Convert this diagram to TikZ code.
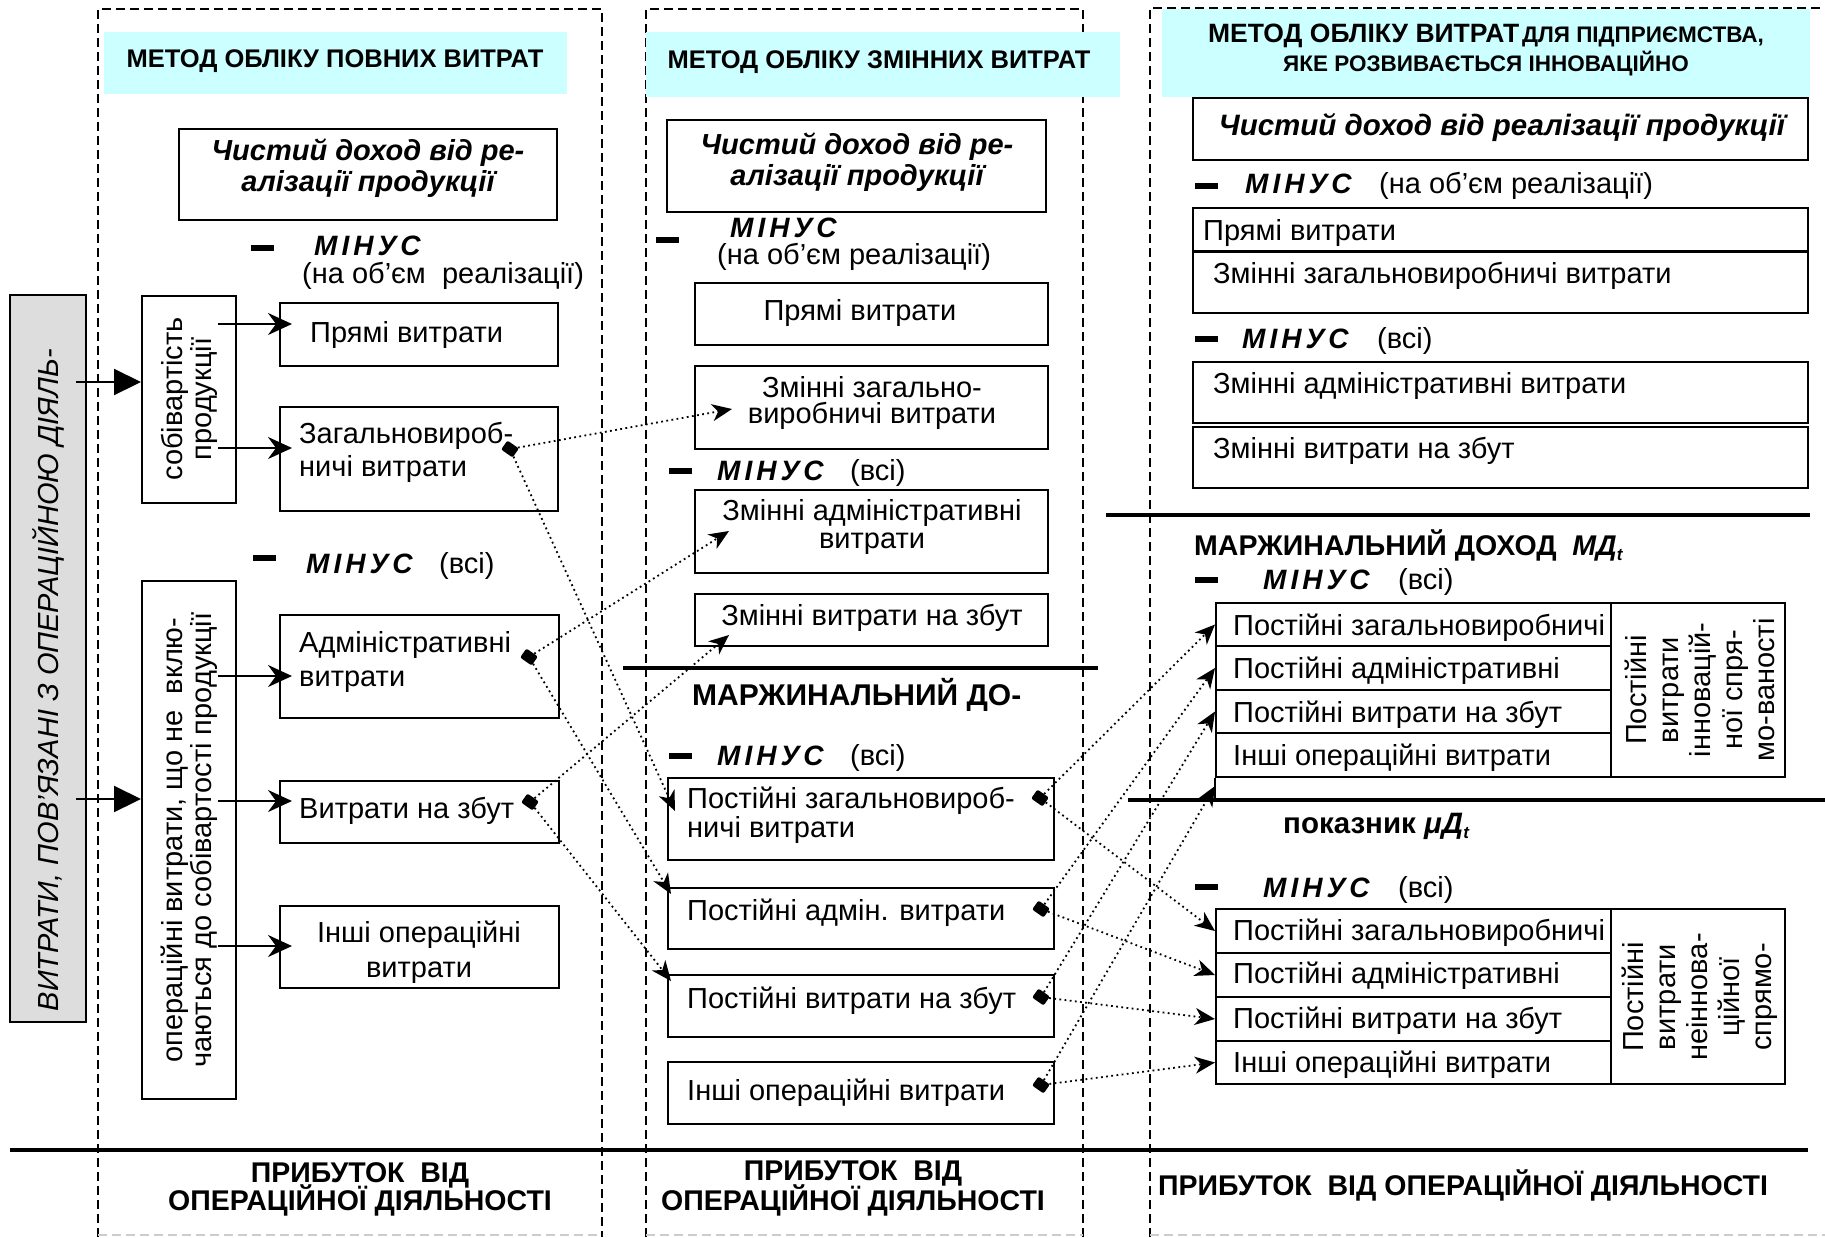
\documentclass[tikz,border=0pt]{standalone}
\usepackage{fontspec}
\setmainfont{Liberation Sans}
\usetikzlibrary{arrows.meta,calc}

\definecolor{hdrcyan}{RGB}{204,255,255}
\definecolor{boxgray}{RGB}{221,221,221}

% box from its two corners: [options]{name}{x1}{y1}{x2}{y2}
\newcommand\cornerbox[6][]{\node[costbox,#1, minimum width={(#5)-(#3)}, minimum height={(#6)-(#4)}] (#2) at ({((#3)+(#5))/2},{((#4)+(#6))/2}) {};}
\newcommand\mnsword{М\kern4ptІ\kern4ptН\kern4ptУ\kern4ptС}
\newcommand\subt{\raisebox{-5pt}{\fontsize{17}{17}\selectfont t}}

\tikzset{
  costbox/.style={draw, line width=2pt, inner sep=0pt},
  txt/.style={inner sep=0pt, font=\fontsize{29}{29}\selectfont},
  hdrtxt/.style={inner sep=0pt, font=\fontsize{25.5}{27}\selectfont\bfseries},
  boldtxt/.style={inner sep=0pt, font=\fontsize{28.5}{29}\selectfont\bfseries},
  bitxt/.style={inner sep=0pt, font=\fontsize{28}{29}\selectfont\bfseries\itshape},
  revtxt/.style={inner sep=0pt, font=\fontsize{29}{29}\selectfont\bfseries\itshape},
  graytxt/.style={inner sep=0pt, font=\fontsize{29}{30}\selectfont\itshape},
  rtxt/.style={inner sep=0pt, align=center, font=\fontsize{29}{29}\selectfont},
  sidetxt/.style={inner sep=0pt, align=center, font=\fontsize{29}{32}\selectfont},
  dashbar/.style={fill, inner sep=0pt, minimum width=23pt, minimum height=6pt},
  sepline/.style={line width=4.5pt},
  coledge/.style={line width=1.4pt, dash pattern=on 9pt off 5pt},
  sarr/.style={line width=2pt, -{Stealth[length=24pt,width=22pt,inset=8pt]}},
  barr/.style={line width=2.2pt, -{Triangle[length=27pt,width=26pt]}},
  darr/.style={line width=1.8pt, dash pattern=on 1.8pt off 3.4pt, -{Stealth[length=20pt,width=17pt,inset=6pt]}},
  srcdot/.style={fill, rounded corners=2pt, minimum width=14pt, minimum height=11pt, inner sep=0pt, rotate=-35},
}

\begin{document}
\begin{tikzpicture}[x=1pt,y=-1pt]
\useasboundingbox (0,0) rectangle (1825,1237);

% ---------- column frames ----------
\draw[coledge] (98,1237) -- (98,9) -- (602,9) -- (602,1237);
\draw[coledge] (646,1237) -- (646,9) -- (1083,9) -- (1083,1237);
\draw[coledge] (1150,1237) -- (1150,8) -- (1830,8);
\draw[coledge, draw=black!20] (98,1235) -- (602,1235) (646,1235) -- (1083,1235) (1150,1235) -- (1830,1235);

% ---------- separators ----------
\draw[sepline] (10,1150) -- (1808,1150);
\draw[sepline] (623,668) -- (1098,668);
\draw[sepline] (1106,515) -- (1810,515);
\draw[sepline] (1128,800) -- (1825,800);

% ================= column 1: full costing =================
\cornerbox[fill=hdrcyan, draw=none]{h1}{104}{32}{567}{94}
\node[hdrtxt, anchor=base] (h1t) at (335,67) {МЕТОД ОБЛІКУ ПОВНИХ ВИТРАТ};

\cornerbox{rev1}{179}{129}{557}{220}
\node[revtxt, anchor=base] (rev1a) at (368,160) {Чистий доход від ре-};
\node[revtxt, anchor=base] (rev1b) at (368,191) {алізації продукції};

\node[dashbar] (m1d) at (262,248) {};
\node[bitxt, anchor=base west] (m1w) at (314,255) {\mnsword};
\node[txt, anchor=base west] (m1n) at (302,283) {(на об’єм\ \ реалізації)};

\cornerbox[fill=boxgray]{gr}{10}{295}{86}{1022}
\node[graytxt, rotate=90] (grt) at (48,680) {ВИТРАТИ, ПОВ’ЯЗАНІ З ОПЕРАЦІЙНОЮ ДІЯЛЬ-};

\cornerbox{sob}{142}{296}{236}{503}
\node[rtxt, rotate=90] (sobt) at (189,399) {собівартість\\продукції};

\cornerbox{p1}{280}{303}{558}{366}
\node[txt, anchor=base west] (p1t) at (310,342) {Прямі витрати};

\cornerbox{z1}{280}{407}{558}{511}
\node[txt, anchor=base west] (z1a) at (299,443) {Загальновироб-};
\node[txt, anchor=base west] (z1b) at (299,476) {ничі витрати};

\node[dashbar] (m2d) at (264,558) {};
\node[bitxt, anchor=base west] (m2w) at (306,573) {\mnsword};
\node[txt, anchor=base west] (m2n) at (439,573) {(всі)};

\cornerbox{opv}{142}{581}{236}{1099}
\node[rtxt, rotate=90] (opvt) at (189,840) {операційні витрати, що не\ \ вклю-\\чаються до собівартості продукції};

\cornerbox{a1}{280}{615}{559}{718}
\node[txt, anchor=base west] (a1a) at (299,652) {Адміністративні};
\node[txt, anchor=base west] (a1b) at (299,686) {витрати};

\cornerbox{b1}{280}{781}{559}{843}
\node[txt, anchor=base west] (b1t) at (299,818) {Витрати на збут};

\cornerbox{i1}{280}{906}{559}{988}
\node[txt, anchor=base] (i1a) at (419,942) {Інші операційні};
\node[txt, anchor=base] (i1b) at (419,977) {витрати};

\node[boldtxt, anchor=base] (pr1a) at (360,1182) {ПРИБУТОК\ \ ВІД};
\node[boldtxt, anchor=base] (pr1b) at (360,1210) {ОПЕРАЦІЙНОЇ ДІЯЛЬНОСТІ};

% arrows of column 1
\draw[barr] ($(gr.north east)+(-11,88)$) -- ($(sob.north west)+(0,87)$);
\draw[barr] ($(gr.north east)+(-11,505)$) -- ($(opv.north west)+(0,219)$);
\draw[sarr] ($(sob.north east)+(-19,29)$) -- ($(p1.north west)+(13,22)$);
\draw[sarr] ($(sob.north east)+(-19,153)$) -- ($(z1.north west)+(13,42)$);
\draw[sarr] ($(opv.north east)+(-19,96)$) -- ($(a1.north west)+(13,62)$);
\draw[sarr] ($(opv.north east)+(-19,221)$) -- ($(b1.north west)+(13,21)$);
\draw[sarr] ($(opv.north east)+(-19,366)$) -- ($(i1.north west)+(13,41)$);

% ================= column 2: variable costing =================
\cornerbox[fill=hdrcyan, draw=none]{h2}{646}{32}{1120}{97}
\node[hdrtxt, anchor=base] (h2t) at (879,68) {МЕТОД ОБЛІКУ ЗМІННИХ ВИТРАТ};

\cornerbox{rev2}{667}{120}{1046}{212}
\node[revtxt, anchor=base] (rev2a) at (857,154) {Чистий доход від ре-};
\node[revtxt, anchor=base] (rev2b) at (857,185) {алізації продукції};

\node[dashbar] (m3d) at (667,240) {};
\node[bitxt, anchor=base west] (m3w) at (730,237) {\mnsword};
\node[txt, anchor=base west] (m3n) at (717,264) {(на об’єм реалізації)};

\cornerbox{p2}{695}{283}{1048}{345}
\node[txt, anchor=base] (p2t) at (860,320) {Прямі витрати};

\cornerbox{zz2}{695}{366}{1048}{449}
\node[txt, anchor=base] (zz2a) at (872,397) {Змінні загально-};
\node[txt, anchor=base] (zz2b) at (872,423) {виробничі витрати};

\node[dashbar] (m4d) at (680,471) {};
\node[bitxt, anchor=base west] (m4w) at (717,480) {\mnsword};
\node[txt, anchor=base west] (m4n) at (850,480) {(всі)};

\cornerbox{za2}{695}{490}{1048}{573}
\node[txt, anchor=base] (za2a) at (872,520) {Змінні адміністративні};
\node[txt, anchor=base] (za2b) at (872,548) {витрати};

\cornerbox{zb2}{695}{594}{1048}{646}
\node[txt, anchor=base] (zb2t) at (872,625) {Змінні витрати на збут};

\node[boldtxt, anchor=base west, font=\fontsize{30}{30}\selectfont\bfseries] (md2) at (692,705) {МАРЖИНАЛЬНИЙ ДО-};

\node[dashbar] (m5d) at (680,756) {};
\node[bitxt, anchor=base west] (m5w) at (717,765) {\mnsword};
\node[txt, anchor=base west] (m5n) at (850,765) {(всі)};

\cornerbox{pz2}{668}{778}{1054}{860}
\node[txt, anchor=base west] (pz2a) at (687,808) {Постійні загальновироб-};
\node[txt, anchor=base west] (pz2b) at (687,837) {ничі витрати};

\cornerbox{pa2}{668}{888}{1054}{949}
\node[txt, anchor=base west] (pa2t) at (687,920) {Постійні адмін. витрати};

\cornerbox{pzb2}{668}{975}{1054}{1037}
\node[txt, anchor=base west] (pzb2t) at (687,1008) {Постійні витрати на збут};

\cornerbox{pi2}{668}{1062}{1054}{1124}
\node[txt, anchor=base west] (pi2t) at (687,1100) {Інші операційні витрати};

\node[boldtxt, anchor=base] (pr2a) at (853,1180) {ПРИБУТОК\ \ ВІД};
\node[boldtxt, anchor=base] (pr2b) at (853,1210) {ОПЕРАЦІЙНОЇ ДІЯЛЬНОСТІ};

% ================= column 3: innovation-oriented costing =================
\cornerbox{rev3}{1193}{98}{1808}{160}
\cornerbox[fill=hdrcyan, draw=none]{h3}{1162}{9}{1810}{97}
\node[inner sep=0pt, anchor=base, font=\bfseries] (h3a) at (1486,42)
  {{\fontsize{26.5}{28}\selectfont МЕТОД ОБЛІКУ ВИТРАТ} {\fontsize{22.5}{24}\selectfont ДЛЯ ПІДПРИЄМСТВА,}};
\node[inner sep=0pt, anchor=base, font=\fontsize{22.5}{24}\selectfont\bfseries] (h3b) at (1486,71) {ЯКЕ РОЗВИВАЄТЬСЯ ІННОВАЦІЙНО};
\node[revtxt, anchor=base, font=\fontsize{29.5}{30}\selectfont\bfseries\itshape] (rev3t) at (1502,135) {Чистий доход від реалізації продукції};

\node[dashbar] (m6d) at (1206,186) {};
\node[bitxt, anchor=base west] (m6w) at (1245,193) {\mnsword};
\node[txt, anchor=base west] (m6n) at (1379,193) {(на об’єм реалізації)};

\cornerbox{pv3}{1193}{208}{1808}{251}
\node[txt, anchor=base west] (pv3t) at (1203,240) {Прямі витрати};
\cornerbox{zz3}{1193}{252}{1808}{313}
\node[txt, anchor=base west] (zz3t) at (1213,283) {Змінні загальновиробничі витрати};

\node[dashbar] (m7d) at (1206,339) {};
\node[bitxt, anchor=base west] (m7w) at (1242,348) {\mnsword};
\node[txt, anchor=base west] (m7n) at (1377,348) {(всі)};

\cornerbox{za3}{1193}{362}{1808}{423}
\node[txt, anchor=base west] (za3t) at (1213,393) {Змінні адміністративні витрати};
\cornerbox{zb3}{1193}{427}{1808}{488}
\node[txt, anchor=base west] (zb3t) at (1213,458) {Змінні витрати на збут};

\node[boldtxt, anchor=base west] (md3) at (1194,555) {МАРЖИНАЛЬНИЙ ДОХОД\ \ {\itshape МД\subt}};

\node[dashbar] (m8d) at (1206,580) {};
\node[bitxt, anchor=base west] (m8w) at (1263,589) {\mnsword};
\node[txt, anchor=base west] (m8n) at (1398,589) {(всі)};

% fixed costs of innovation orientation
\cornerbox{r1a}{1216}{603}{1611}{646}
\cornerbox{r2a}{1216}{646}{1611}{690}
\cornerbox{r3a}{1216}{690}{1611}{733}
\cornerbox{r4a}{1216}{733}{1611}{777}
\node[txt, anchor=base west] (r1at) at (1233,635) {Постійні загальновиробничі};
\node[txt, anchor=base west] (r2at) at (1233,678) {Постійні адміністративні};
\node[txt, anchor=base west] (r3at) at (1233,722) {Постійні витрати на збут};
\node[txt, anchor=base west] (r4at) at (1233,765) {Інші операційні витрати};
\cornerbox[fill=white]{sa}{1611}{603}{1785}{777}
\node[sidetxt, rotate=90] (sat) at (1700,690) {Постійні\\витрати\\інновацій-\\ної спря-\\мо-ваності};
\draw[line width=2pt] (r4a.south west) -- ++(0,23);

\node[boldtxt, anchor=base west, font=\fontsize{29.5}{30}\selectfont\bfseries] (mu3) at (1283,833) {показник {\itshape μД\subt}};

\node[dashbar] (m9d) at (1206,887) {};
\node[bitxt, anchor=base west] (m9w) at (1263,897) {\mnsword};
\node[txt, anchor=base west] (m9n) at (1398,897) {(всі)};

% fixed costs without innovation orientation
\cornerbox{r1b}{1216}{909}{1611}{953}
\cornerbox{r2b}{1216}{953}{1611}{997}
\cornerbox{r3b}{1216}{997}{1611}{1041}
\cornerbox{r4b}{1216}{1041}{1611}{1084}
\node[txt, anchor=base west] (r1bt) at (1233,940) {Постійні загальновиробничі};
\node[txt, anchor=base west] (r2bt) at (1233,983) {Постійні адміністративні};
\node[txt, anchor=base west] (r3bt) at (1233,1028) {Постійні витрати на збут};
\node[txt, anchor=base west] (r4bt) at (1233,1072) {Інші операційні витрати};
\cornerbox[fill=white]{sb}{1611}{909}{1785}{1084}
\node[sidetxt, rotate=90] (sbt) at (1700,997) {Постійні\\витрати\\неіннова-\\ційної\\спрямо-};

\node[boldtxt, anchor=base] (pr3) at (1463,1195) {ПРИБУТОК\ \ ВІД ОПЕРАЦІЙНОЇ ДІЯЛЬНОСТІ};

% ---------- source markers ----------
\node[srcdot] (dz1) at (510,449) {};
\node[srcdot] (da1) at (529,657) {};
\node[srcdot] (db1) at (530,802) {};
\node[srcdot] (dpz) at (1040,798) {};
\node[srcdot] (dpa) at (1041,909) {};
\node[srcdot] (dpzb) at (1041,997) {};
\node[srcdot] (dpi) at (1041,1085) {};

% ---------- regrouping of cost items ----------
\draw[darr] (dz1) -- ($(zz2.north west)+(38,44)$);
\draw[darr] (dz1) -- ($(pz2.north west)+(8,34)$);
\draw[darr] (da1) -- ($(za2.north west)+(35,42)$);
\draw[darr] (da1) -- ($(pa2.north west)+(4,7)$);
\draw[darr] (db1) -- ($(zb2.north west)+(35,42)$);
\draw[darr] (db1) -- ($(pzb2.north west)+(4,7)$);

\draw[darr] (dpz) -- (r1a.west);
\draw[darr] (dpz) -- (r1b.west);
\draw[darr] (dpa) -- (r2a.west);
\draw[darr] (dpa) -- (r2b.west);
\draw[darr] (dpzb) -- (r3a.west);
\draw[darr] (dpzb) -- (r3b.west);
\draw[darr] (dpi) -- ($(r4a.south west)+(0,8)$);
\draw[darr] (dpi) -- (r4b.west);

\end{tikzpicture}
\end{document}
